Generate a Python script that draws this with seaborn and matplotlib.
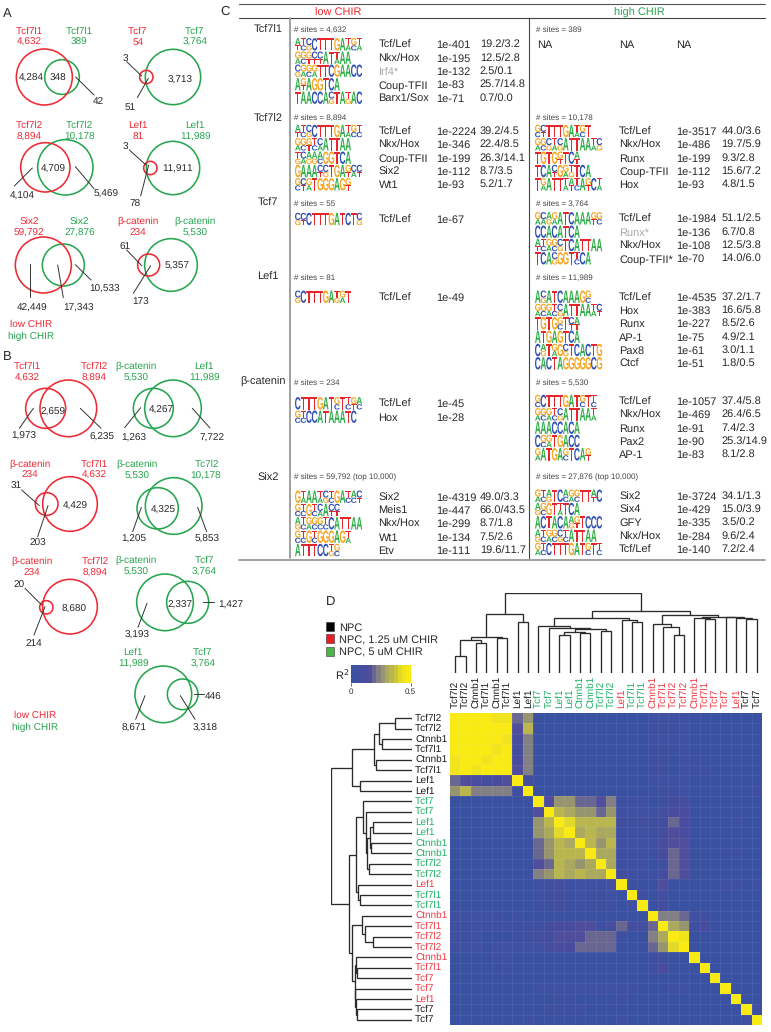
# -*- coding: utf-8 -*-
"""
ChIP-seq overlap, motif enrichment and peak correlation figure (panels A-D)
"""

import numpy as np
import seaborn as sns
import matplotlib.pyplot as plt
from matplotlib.colors import LinearSegmentedColormap
from matplotlib.font_manager import FontProperties
from matplotlib.patches import Circle, PathPatch, Rectangle
from matplotlib.textpath import TextPath
from matplotlib.transforms import Affine2D

RED = "#ee2a35"
GREEN = "#27a54f"
DARK = "#2a2829"

# Panels A and B: site counts
venn_titles = [
    ["Tcf7l1", "Tcf7l1"], ["Tcf7", "Tcf7"], ["Tcf7l2", "Tcf7l2"], ["Lef1", "Lef1"],
    ["Six2", "Six2"], ["β-catenin", "β-catenin"],
    ["Tcf7l1", "Tcf7l2"], ["β-catenin", "Lef1"], ["β-catenin", "Tcf7l1"],
    ["β-catenin", "Tc7l2"], ["β-catenin", "Tcf7l2"], ["β-catenin", "Tcf7"],
    ["Lef1", "Tcf7"],
]
venn_totals = [
    ["4,632", "389"], ["54", "3,764"], ["8,894", "10,178"], ["81", "11,989"],
    ["59,792", "27,876"], ["234", "5,530"],
    ["4,632", "8,894"], ["5,530", "11,989"], ["234", "4,632"],
    ["5,530", "10,178"], ["234", "8,894"], ["5,530", "3,764"],
    ["11,989", "3,764"],
]
venn_parts = [
    ["4,284", "348", "42"], ["3", "51", "3,713"], ["4,104", "4,709", "5,469"],
    ["3", "78", "11,911"], ["42,449", "17,343", "10,533"], ["61", "173", "5,357"],
    ["1,973", "2,659", "6,235"], ["1,263", "4,267", "7,722"], ["31", "203", "4,429"],
    ["1,205", "4,325", "5,853"], ["20", "214", "8,680"], ["3,193", "2,337", "1,427"],
    ["8,671", "3,318", "446"],
]
venn_title_colors = [
    [RED, GREEN], [RED, GREEN], [RED, GREEN], [RED, GREEN], [RED, GREEN], [RED, GREEN],
    [RED, RED], [GREEN, GREEN], [RED, RED], [GREEN, GREEN], [RED, RED], [GREEN, GREEN],
    [GREEN, GREEN],
]

# Panel C: motif tables, one inner list per factor
factors = ["Tcf7l1", "Tcf7l2", "Tcf7", "Lef1", "β-catenin", "Six2"]
low_sites = ["# sites = 4,632", "# sites = 8,894", "# sites = 55", "# sites = 81",
             "# sites = 234", "# sites = 59,792 (top 10,000)"]
high_sites = ["# sites = 389", "# sites = 10,178", "# sites = 3,764", "# sites = 11,989",
              "# sites = 5,530", "# sites = 27,876 (top 10,000)"]
low_motifs = [
    ["Tcf/Lef", "Nkx/Hox", "Irf4*", "Coup-TFII", "Barx1/Sox"],
    ["Tcf/Lef", "Nkx/Hox", "Coup-TFII", "Six2", "Wt1"],
    ["Tcf/Lef"], ["Tcf/Lef"], ["Tcf/Lef", "Hox"],
    ["Six2", "Meis1", "Nkx/Hox", "Wt1", "Etv"],
]
low_pvals = [
    ["1e-401", "1e-195", "1e-132", "1e-83", "1e-71"],
    ["1e-2224", "1e-346", "1e-199", "1e-112", "1e-93"],
    ["1e-67"], ["1e-49"], ["1e-45", "1e-28"],
    ["1e-4319", "1e-447", "1e-299", "1e-134", "1e-111"],
]
low_ratios = [
    ["19.2/3.2", "12.5/2.8", "2.5/0.1", "25.7/14.8", "0.7/0.0"],
    ["39.2/4.5", "22.4/8.5", "26.3/14.1", "8.7/3.5", "5.2/1.7"],
    [""], [""], ["", ""],
    ["49.0/3.3", "66.0/43.5", "8.7/1.8", "7.5/2.6", "19.6/11.7"],
]
high_motifs = [
    ["NA"],
    ["Tcf/Lef", "Nkx/Hox", "Runx", "Coup-TFII", "Hox"],
    ["Tcf/Lef", "Runx*", "Nkx/Hox", "Coup-TFII*"],
    ["Tcf/Lef", "Hox", "Runx", "AP-1", "Pax8", "Ctcf"],
    ["Tcf/Lef", "Nkx/Hox", "Runx", "Pax2", "AP-1"],
    ["Six2", "Six4", "GFY", "Nkx/Hox", "Tcf/Lef"],
]
high_pvals = [
    ["NA"],
    ["1e-3517", "1e-486", "1e-199", "1e-112", "1e-93"],
    ["1e-1984", "1e-136", "1e-108", "1e-70"],
    ["1e-4535", "1e-383", "1e-227", "1e-75", "1e-61", "1e-51"],
    ["1e-1057", "1e-469", "1e-91", "1e-90", "1e-83"],
    ["1e-3724", "1e-429", "1e-335", "1e-284", "1e-140"],
]
high_ratios = [
    [""],
    ["44.0/3.6", "19.7/5.9", "9.3/2.8", "15.6/7.2", "4.8/1.5"],
    ["51.1/2.5", "6.7/0.8", "12.5/3.8", "14.0/6.0"],
    ["37.2/1.7", "16.6/5.8", "8.5/2.6", "4.9/2.1", "3.0/1.1", "1.8/0.5"],
    ["37.4/5.8", "26.4/6.5", "7.4/2.3", "25.3/14.9", "8.1/2.8"],
    ["34.1/1.3", "15.0/3.9", "3.5/0.2", "9.6/2.4", "7.2/2.4"],
]
# logos: one stack per position, strongest letter first
low_logos = [
    ["AT TC CG C T T T G A TA GC TA", "GA GC GT CT CT A T TA A A", "CG GA GC GA T T C G A A C C",
     "A GT A G G T C A", "T A A C C A CG T A TG A C"],
    ["AT TC CG C T T T G A TA GC TC", "GA GC GT TC CA A T T A A", "TG CA AG AG AC G G T C A",
     "G A A A CT CG T G A GT CA CT", "GC CT GA T G G G A G GT"],
    ["CG CT C T T T G A T C T CG"],
    ["CG C T T T G A TG GA T"],
    ["C T T T G A T GC T TC GT AC", "GC TC C C A T A A A T C"],
    ["G TA A A TA CG TC G A TC AC CT", "GC TC G TC CA A CT CT", "AG TC GA GC GC TC C A T T A A",
     "GC TC G TC G G G A G TA", "A T T T C C TG GC"],
]
high_logos = [
    [],
    ["GC CT T T T G A TA GC T", "GA GC CG TA CG A T T A A TA CG", "T G T G GT T C AT",
     "T C A CT G GA TG T C A", "T GA A T T TA AT TC A GT C TA"],
    ["GA CA AG GA A T C A A A GT GC", "C C A C A T C A", "AT TC GA GC CG T C A T T A A",
     "T C A CG G G T TC C A"],
    ["A CG A T C A A A G GC", "GA GC GA TC CG A T T A A TA CT", "T G T G GC T CT AT",
     "A T G A G T C A", "C AG T GA G CG T C A C T G", "C A C T A G G G G G C G"],
    ["GC C T T T G A T GC T TC", "GA GC GA TC CG A T T A A TA", "A A A C C A C A",
     "C GC GA T G A C C", "GA A T G A GC T C A GT"],
    ["GA TC AG T C AC GA GC T T AT C", "AG GC G T TA T C A", "A C T A C A AG GT T C C C",
     "AG TC GA GC CG TC A T T A A", "GA TC C T T T G A T GC T TC"],
]

# Panel D: labels, condition of each sample, R2 matrix (x100), dendrogram
sample_names = ["Tcf7l2", "Tcf7l2", "Ctnnb1", "Tcf7l1", "Ctnnb1", "Tcf7l1", "Lef1", "Lef1",
                "Tcf7", "Tcf7", "Lef1", "Lef1", "Ctnnb1", "Ctnnb1", "Tcf7l2", "Tcf7l2",
                "Lef1", "Tcf7l1", "Tcf7l1", "Ctnnb1", "Tcf7l1", "Tcf7l2", "Tcf7l2",
                "Ctnnb1", "Tcf7l1", "Tcf7", "Tcf7", "Lef1", "Tcf7", "Tcf7"]
sample_colors = ["#1c1c1c"] * 8 + ["#1fb065"] * 8 + ["#ee3a45"] + ["#1fb065"] * 2 + ["#ee3a45"] * 9 + ["#1c1c1c"] * 2
r2_x100 = [
    [50, 50, 48, 50, 46, 46, 18, 26, 3, 3, 3, 3, 3, 3, 3, 3, 3, 3, 3, 5, 5, 6, 6, 3, 3, 3, 3, 3, 3, 3],
    [50, 50, 49, 50, 47, 47, 16, 34, 3, 3, 3, 3, 3, 3, 3, 3, 3, 3, 3, 4, 4, 6, 5, 3, 3, 3, 3, 3, 3, 3],
    [47, 49, 50, 50, 48, 46, 11, 24, 3, 3, 3, 3, 3, 3, 3, 3, 3, 3, 3, 6, 4, 4, 4, 3, 3, 3, 3, 3, 3, 3],
    [50, 50, 50, 50, 44, 50, 10, 22, 3, 3, 3, 3, 3, 3, 3, 3, 3, 3, 3, 4, 4, 4, 4, 3, 3, 3, 3, 3, 3, 3],
    [46, 47, 48, 44, 50, 47, 14, 24, 3, 3, 3, 3, 3, 3, 3, 3, 3, 3, 3, 4, 4, 3, 5, 5, 3, 3, 3, 3, 3, 3],
    [45, 47, 46, 50, 47, 50, 15, 24, 3, 3, 3, 3, 3, 3, 3, 3, 3, 3, 3, 4, 4, 3, 5, 6, 4, 3, 3, 3, 3, 3],
    [18, 16, 11, 10, 14, 15, 50, 8, 3, 3, 3, 3, 3, 3, 3, 3, 3, 3, 3, 5, 5, 6, 5, 3, 3, 3, 3, 3, 3, 3],
    [26, 34, 24, 22, 24, 24, 8, 50, 3, 3, 3, 3, 3, 3, 3, 3, 3, 3, 3, 3, 4, 4, 4, 3, 3, 3, 3, 3, 3, 5],
    [3, 3, 3, 3, 3, 3, 3, 3, 50, 15, 27, 27, 20, 20, 16, 22, 6, 6, 5, 3, 6, 8, 9, 3, 3, 3, 3, 3, 3, 3],
    [3, 3, 3, 3, 3, 3, 3, 3, 15, 50, 33, 30, 27, 27, 21, 28, 6, 6, 5, 4, 8, 11, 12, 3, 3, 3, 3, 3, 3, 3],
    [3, 3, 3, 3, 3, 3, 3, 3, 27, 33, 50, 42, 34, 34, 33, 33, 8, 7, 8, 4, 10, 18, 12, 3, 3, 3, 3, 4, 3, 3],
    [3, 3, 3, 3, 3, 3, 3, 3, 27, 30, 42, 50, 30, 34, 29, 32, 7, 7, 6, 4, 9, 17, 11, 3, 3, 3, 3, 3, 3, 3],
    [3, 3, 3, 3, 3, 3, 3, 3, 20, 27, 34, 30, 50, 33, 28, 33, 7, 5, 5, 4, 14, 16, 16, 3, 3, 3, 3, 3, 3, 3],
    [3, 3, 3, 3, 3, 3, 3, 3, 20, 27, 34, 34, 33, 50, 30, 31, 6, 5, 5, 4, 14, 20, 16, 3, 3, 3, 3, 4, 3, 3],
    [3, 3, 3, 3, 3, 3, 3, 3, 16, 21, 33, 29, 28, 30, 50, 32, 5, 5, 5, 3, 4, 18, 16, 3, 3, 3, 3, 3, 3, 3],
    [3, 3, 3, 3, 3, 3, 3, 3, 22, 28, 33, 32, 33, 31, 32, 50, 8, 5, 5, 4, 8, 18, 16, 3, 3, 3, 3, 3, 3, 3],
    [3, 3, 3, 3, 3, 3, 3, 3, 6, 6, 8, 7, 7, 6, 5, 8, 50, 3, 3, 3, 16, 3, 3, 3, 3, 3, 4, 4, 3, 4],
    [3, 3, 3, 3, 3, 3, 3, 3, 6, 6, 8, 7, 5, 5, 4, 4, 3, 50, 5, 3, 9, 3, 3, 3, 3, 3, 3, 3, 3, 3],
    [3, 3, 3, 3, 3, 3, 3, 3, 5, 5, 8, 6, 5, 5, 4, 4, 3, 5, 50, 3, 9, 3, 3, 3, 3, 3, 3, 3, 3, 3],
    [4, 4, 5, 5, 5, 3, 4, 3, 3, 3, 3, 3, 3, 3, 3, 3, 3, 3, 3, 50, 22, 22, 18, 6, 6, 3, 3, 3, 3, 3],
    [5, 4, 4, 4, 4, 4, 5, 4, 6, 8, 12, 12, 16, 16, 7, 10, 18, 9, 9, 20, 50, 30, 27, 7, 12, 3, 3, 3, 3, 3],
    [6, 6, 4, 3, 3, 3, 6, 5, 8, 10, 16, 16, 16, 20, 20, 20, 5, 3, 3, 22, 29, 50, 43, 3, 3, 3, 3, 3, 3, 3],
    [6, 5, 4, 3, 5, 5, 5, 4, 6, 9, 12, 12, 18, 18, 18, 18, 3, 3, 3, 20, 25, 42, 50, 3, 3, 3, 3, 3, 3, 3],
    [3, 3, 3, 3, 5, 6, 3, 3, 3, 3, 3, 3, 3, 3, 3, 3, 3, 3, 3, 6, 7, 3, 3, 50, 3, 3, 3, 3, 3, 3],
    [3, 3, 3, 3, 3, 4, 3, 3, 3, 3, 3, 3, 3, 3, 3, 3, 3, 3, 3, 6, 12, 3, 3, 3, 50, 3, 3, 3, 3, 3],
    [3, 3, 3, 3, 3, 3, 3, 3, 3, 3, 3, 3, 3, 3, 3, 3, 3, 3, 3, 3, 3, 3, 3, 3, 3, 50, 3, 3, 3, 3],
    [3, 3, 3, 3, 3, 3, 3, 3, 4, 4, 4, 4, 4, 4, 4, 4, 4, 4, 3, 3, 3, 4, 4, 3, 3, 3, 50, 3, 3, 3],
    [3, 3, 3, 3, 3, 3, 3, 3, 3, 3, 4, 4, 3, 3, 3, 3, 4, 3, 3, 3, 3, 3, 3, 3, 3, 3, 3, 50, 3, 3],
    [3, 3, 3, 3, 3, 3, 3, 3, 3, 4, 4, 4, 4, 3, 3, 3, 3, 3, 3, 3, 3, 3, 3, 3, 3, 3, 3, 3, 50, 4],
    [3, 3, 3, 3, 3, 3, 3, 5, 3, 3, 3, 3, 3, 3, 3, 3, 4, 3, 3, 3, 3, 3, 3, 3, 3, 3, 3, 3, 4, 50],
]
# same layout as a linkage table: each merge makes node 30, 31, ...
merges = [(0, 1), (2, 3), (30, 31), (4, 5), (32, 33), (6, 7), (34, 35), (10, 11), (12, 13),
          (37, 38), (14, 15), (39, 40), (9, 41), (8, 42), (17, 18), (16, 44), (43, 45),
          (21, 22), (20, 47), (19, 48), (24, 25), (23, 50), (28, 29), (27, 52), (26, 53),
          (51, 54), (49, 55), (46, 56), (36, 57)]
col_heights = [16.7, 29.7, 33, 34.7, 36, 51, 59, 38, 40, 41.7, 42, 44, 45.5, 47.7, 51, 53, 55.7,
               38, 46, 49, 54.7, 55, 54.3, 55.7, 56, 56.5, 58, 62, 80.7]
row_heights = [16.7, 29.3, 32, 35, 37, 51, 59, 38, 40, 41.7, 42, 44, 45.7, 48, 51.7, 53, 55.7,
               38, 46.7, 49.3, 54, 55, 54.3, 55.7, 56, 56.5, 59, 61.7, 80]
legend_names = ["NPC", "NPC, 1.25 uM CHIR", "NPC, 5 uM CHIR"]
legend_colors = ["#000000", "#ed1c24", "#4cb748"]

# Layout of panels A and B, measured on 3x crops; dy is the crop's page offset
venn_layout = [
    dict(dy=0, circles=[(186, 231, 52, GREEN), (133, 231, 84, RED)],
         heads=[(87, 90), (87, 124), (237, 90), (237, 124)],
         nums=[(93, 232), (174, 232), (294, 302)], lines=[(227, 231, 282, 285)]),
    dict(dy=0, circles=[(519, 231, 83, GREEN), (439, 231, 20, RED)],
         heads=[(413, 90), (413, 124), (584, 90), (584, 124)],
         nums=[(375, 174), (390, 318), (540, 236)],
         lines=[(380, 185, 425, 228), (412, 293, 445, 235)]),
    dict(dy=0, circles=[(196, 502, 83, GREEN), (136, 502, 74, RED)],
         heads=[(88, 373), (88, 408), (238, 373), (240, 408)],
         nums=[(68, 586), (160, 505), (318, 580)],
         lines=[(43, 558, 97, 504), (226, 500, 282, 566)]),
    dict(dy=0, circles=[(519, 504, 80, GREEN), (451, 504, 20, RED)],
         heads=[(413, 373), (413, 408), (584, 373), (586, 408)],
         nums=[(375, 440), (404, 610), (534, 504)],
         lines=[(388, 450, 438, 495), (422, 588, 446, 495)]),
    dict(dy=0, circles=[(190, 795, 63, GREEN), (130, 795, 84, RED)],
         heads=[(88, 661), (88, 696), (238, 661), (238, 696)],
         nums=[(95, 920), (235, 922), (315, 864)],
         lines=[(91, 792, 91, 890), (173, 795, 190, 893), (226, 794, 273, 840)]),
    dict(dy=0, circles=[(513, 795, 79, GREEN), (446, 795, 33, RED)],
         heads=[(413, 661), (413, 696), (584, 661), (584, 696)],
         nums=[(374, 738), (422, 905), (530, 796)],
         lines=[(380, 750, 425, 797), (400, 880, 452, 797)]),
    dict(dy=1020, circles=[(137, 205, 60, RED), (205, 205, 85, RED)],
         heads=[(83, 75), (83, 110), (283, 75), (283, 110)],
         nums=[(70, 285), (160, 212), (306, 287)],
         lines=[(58, 265, 100, 205), (241, 205, 303, 265)]),
    dict(dy=1020, circles=[(460, 205, 60, GREEN), (519, 205, 85, GREEN)],
         heads=[(407, 75), (407, 110), (613, 75), (613, 110)],
         nums=[(400, 292), (483, 208), (635, 292)],
         lines=[(374, 263, 422, 203), (577, 205, 630, 264)]),
    dict(dy=1020, circles=[(140, 492, 34, RED), (210, 492, 82, RED)],
         heads=[(91, 369), (91, 403), (283, 369), (283, 403)],
         nums=[(50, 436), (115, 607), (225, 496)],
         lines=[(65, 450, 118, 497), (113, 590, 144, 497)]),
    dict(dy=1020, circles=[(473, 505, 62, GREEN), (521, 498, 85, GREEN)],
         heads=[(410, 371), (410, 405), (620, 371), (617, 405)],
         nums=[(400, 595), (490, 508), (620, 595)],
         lines=[(398, 575, 424, 502), (593, 502, 620, 575)]),
    dict(dy=1020, circles=[(139, 802, 20, RED), (210, 800, 82, RED)],
         heads=[(96, 662), (96, 697), (286, 662), (286, 697)],
         nums=[(58, 732), (101, 908), (223, 805)],
         lines=[(75, 745, 125, 795), (102, 885, 135, 800)]),
    dict(dy=1020, circles=[(495, 787, 85, GREEN), (563, 787, 63, GREEN)],
         heads=[(407, 659), (407, 694), (613, 659), (613, 694)],
         nums=[(410, 882), (540, 792), (692, 792)],
         lines=[(414, 862, 441, 790), (610, 787, 642, 787)]),
    dict(dy=1920, circles=[(490, 163, 85, GREEN), (548, 163, 46, GREEN)],
         heads=[(400, 35), (402, 70), (608, 35), (608, 70)],
         nums=[(403, 262), (614, 262), (640, 168)],
         lines=[(407, 238, 435, 167), (585, 238, 541, 167), (583, 163, 613, 163)]),
]

# Layout of panel C in page pixels
low_rows = [[44.3, 57.7, 70.7, 84.3, 97.7], [131, 144.3, 157.7, 171, 184.3], [219], [296.7],
            [403.3, 416.7], [496.7, 510, 523.3, 536.7, 550]]
high_rows = [[44.3], [131, 144.3, 157.7, 171, 184.3], [218.3, 231.7, 245, 258.3],
             [296.7, 310, 323.3, 336.7, 350, 363.3], [401, 414.3, 427.7, 441, 454.3],
             [495.7, 509, 522.3, 535.7, 549]]
site_rows = [28.7, 116.7, 203.3, 276.7, 381.7, 476.7]
factor_rows = [28.7, 118, 202, 276, 381, 476.7]

sns.set_theme(style="white")
plt.rcParams["font.family"] = ["Liberation Sans", "DejaVu Sans"]
plt.rcParams["text.hinting"] = "no_hinting"
plt.rcParams["text.hinting_factor"] = 1

W, H = 771, 1032
fig = plt.figure(figsize=(W / 100, H / 100), dpi=100)


def axes_px(x0, y0, x1, y1):
    return fig.add_axes([x0 / W, 1 - y1 / H, (x1 - x0) / W, (y1 - y0) / H])


page = axes_px(0, 0, W, H)
page.set_xlim(0, W)
page.set_ylim(H, 0)
page.axis("off")


def label(x, y, s, size=7.1, color=DARK, ha="center"):
    page.text(x, y, s, fontsize=size, color=color, ha=ha, va="center_baseline")


# Panel A and B
for i, lay in enumerate(venn_layout):
    dy = lay["dy"]
    for cx, cy, r, col in lay["circles"]:
        page.add_patch(Circle((cx / 3, (cy + dy) / 3), r / 3, fill=False, ec=col, lw=1.15))
    for x0, y0, x1, y1 in lay["lines"]:
        page.plot([x0 / 3, x1 / 3], [(y0 + dy) / 3, (y1 + dy) / 3], color="#333333", lw=0.7)
    heads = [venn_titles[i][0], venn_totals[i][0], venn_titles[i][1], venn_totals[i][1]]
    cols = [venn_title_colors[i][0]] * 2 + [venn_title_colors[i][1]] * 2
    for (x, y), s, c in zip(lay["heads"], heads, cols):
        label(x / 3, (y + dy) / 3, s, 7.1, c)
    for (x, y), s in zip(lay["nums"], venn_parts[i]):
        label(x / 3, (y + dy) / 3, s, 6.9)

label(30.7, 323.7, "low CHIR", 7.1, RED)
label(30.7, 335.3, "high CHIR", 7.1, GREEN)
label(34.7, 714.3, "low CHIR", 7.1, RED)
label(35.3, 726.3, "high CHIR", 7.1, GREEN)
label(7, 12, "A", 9.5)
label(7, 355, "B", 9.5)
label(225, 10.5, "C", 9.5)
label(330.7, 600, "D", 9.5)

# Panel C
logo_colors = {"A": "#2fae49", "C": "#2f4fb5", "G": "#f5a623", "T": "#e5262d"}
logo_font = FontProperties(family="Liberation Sans", weight="bold")


def draw_logo(x0, yc, logo, step=5.6, height=12.4):
    for k, stack in enumerate(logo.split()):
        if len(stack) == 1:
            shares = [1.0]
        else:
            shares = [0.58] + [0.42 / (len(stack) - 1)] * (len(stack) - 1)
        top = yc - height / 2
        for letter, share in zip(stack, shares):
            tp = TextPath((0, 0), letter, size=10, prop=logo_font)
            box = tp.get_extents()
            h = height * share
            tr = (
                Affine2D()
                .translate(-box.x0, -box.y1)
                .scale(step / box.width, -h / box.height)
                .translate(x0 + k * step, top)
            )
            page.add_patch(PathPatch(tr.transform_path(tp), fc=logo_colors[letter], lw=0, transform=page.transData))
            top += h


def draw_table(rows, motifs, pvals, ratios, logos, sites, x_logo, x_site, x_motif, x_p, x_ratio):
    for g in range(len(rows)):
        label(x_site, site_rows[g], sites[g], 5.5, "#444444", "left")
        for r, y in enumerate(rows[g]):
            col = "#a6a6a6" if motifs[g][r] in ("Irf4*", "Runx*") else DARK
            label(x_motif, y, motifs[g][r], 8, col, "left")
            label(x_p, y, pvals[g][r], 8, DARK, "left")
            label(x_ratio, y, ratios[g][r], 8, DARK, "left")
            if logos[g]:
                draw_logo(x_logo, y, logos[g][r])


draw_table(low_rows, low_motifs, low_pvals, low_ratios, low_logos, low_sites, 295, 294, 378.5, 436, 479.7)
draw_table(high_rows, high_motifs, high_pvals, high_ratios, high_logos, high_sites, 535, 536, 619, 676.5, 721.5)
# the NA row sits a little further in than the logos
label(536.7, 44.3, "NA", 8, DARK, "left")
for name, y in zip(factors, factor_rows):
    label(268 if name != "β-catenin" else 263, y, name, 7.6)
label(338, 11.7, "low CHIR", 8, RED)
label(639, 11.7, "high CHIR", 8, GREEN)
page.plot([239, 765], [3.7, 3.7], color="#555555", lw=0.8)
page.plot([239, 765], [18.3, 18.3], color="#444444", lw=0.8)
page.plot([239, 765], [560, 560], color="#999999", lw=1.3)
page.plot([290, 290], [18.3, 558], color="#999999", lw=1.3)
page.plot([528.5, 528.5], [18.3, 558], color="#444444", lw=0.8)

# Panel D legend
for name, col, y in zip(legend_names, legend_colors, [626.3, 638.8, 651.2]):
    page.add_patch(Rectangle((325.7, y - 4.4), 8.7, 8.8, fc=col, ec="#333333", lw=0.4))
    label(338.7, y + 0.5, name, 8, DARK, "left")
label(342, 674, "R$^2$", 8)

# Panel D heatmap
r2 = np.array(r2_x100) / 100
r2_cmap = LinearSegmentedColormap.from_list(
    "r2",
    [(0, "#3a51a2"), (0.3, "#4d4b9d"), (0.45, "#7f7c88"), (0.6, "#a8a660"),
     (0.75, "#c4c044"), (0.87, "#ebdf22"), (1, "#f9ea14")],
    N=14,
)
ax_heat = axes_px(450, 713, 762, 1025)
cax = axes_px(350.7, 665, 410.7, 683)
sns.heatmap(
    r2, ax=ax_heat, cbar_ax=cax, cmap=r2_cmap, vmin=0, vmax=0.5,
    xticklabels=sample_names, yticklabels=sample_names,
    cbar_kws={"orientation": "horizontal", "ticks": [0, 0.5]},
)
# faint lines between the cells
ax_heat.hlines(range(1, 30), 0, 30, color="white", lw=0.5, alpha=0.09)
ax_heat.vlines(range(1, 30), 0, 30, color="white", lw=0.5, alpha=0.09)
cax.set_xticklabels(["0", "0.5"], fontsize=6, color=DARK)
cax.tick_params(length=2, width=0.5, pad=2, color=DARK)
ax_heat.xaxis.tick_top()
ax_heat.tick_params(axis="x", length=0, pad=3.5, rotation=90)
ax_heat.tick_params(axis="y", length=0, pad=25.2, rotation=0)
for tick, col in zip(ax_heat.get_xticklabels(), sample_colors):
    tick.set_color(col)
    tick.set_fontsize(7.1)
for tick, col in zip(ax_heat.get_yticklabels(), sample_colors):
    tick.set_color(col)
    tick.set_fontsize(7.1)
    tick.set_ha("left")


def draw_dendrogram(ax, heights, vertical=True):
    pos = {i: i + 0.5 for i in range(30)}
    level = {i: 0 for i in range(30)}
    for n, ((a, b), h) in enumerate(zip(merges, heights)):
        xs = [pos[a], pos[a], pos[b], pos[b]]
        ys = [level[a], h, h, level[b]]
        if vertical:
            ax.plot(xs, ys, color="#2b2b2b", lw=0.95, solid_joinstyle="miter")
        else:
            ax.plot(ys, xs, color="#2b2b2b", lw=0.95, solid_joinstyle="miter")
        pos[30 + n] = (pos[a] + pos[b]) / 2
        level[30 + n] = h
    ax.axis("off")


ax_top = axes_px(450, 592.7, 762, 673)
draw_dendrogram(ax_top, col_heights, vertical=True)
ax_top.set_xlim(0, 30)
ax_top.set_ylim(0, max(col_heights))
ax_left = axes_px(331, 713, 411.7, 1025)
draw_dendrogram(ax_left, row_heights, vertical=False)
ax_left.set_ylim(30, 0)
ax_left.set_xlim(max(row_heights), 0)

plt.savefig("out.png", dpi=100)
plt.close()
